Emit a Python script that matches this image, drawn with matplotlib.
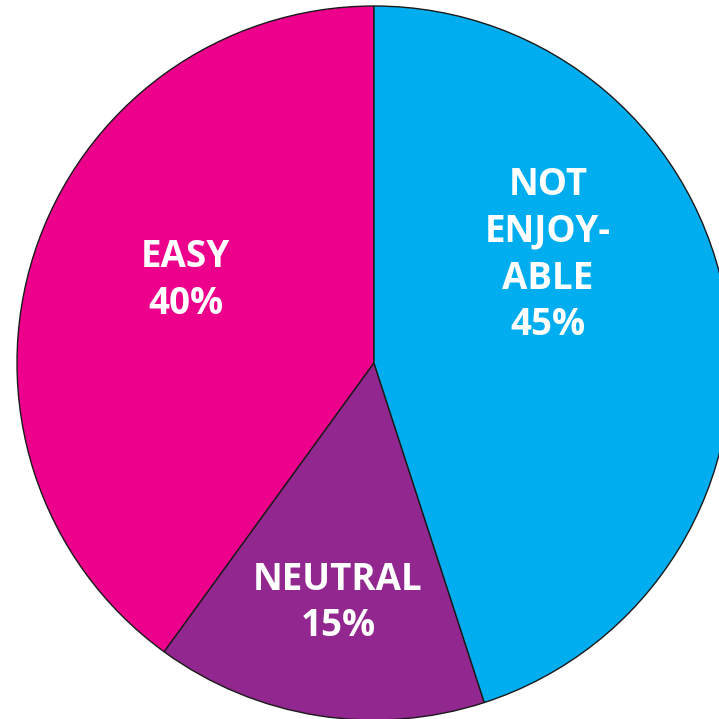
import matplotlib
matplotlib.use("Agg")
import matplotlib.pyplot as plt

labels = ["EASY", "NEUTRAL", "NOT\nENJOY-\nABLE"]
values = [40, 15, 45]
colors = ["#EC008C", "#92278F", "#00AEEF"]

# label positions (data units, pie radius = 1)
label_pos = [(-0.527, 0.232), (-0.101, -0.672), (0.487, 0.302)]

fig = plt.figure(figsize=(7.19, 7.19), dpi=100)
ax = fig.add_axes([0, 0, 1, 1])

ax.pie(values, colors=colors, startangle=90, counterclock=True,
       wedgeprops=dict(edgecolor="#1a1a1a", linewidth=1.0))

for lab, val, (x, y) in zip(labels, values, label_pos):
    ax.text(x, y, f"{lab}\n{val}%", ha="center", va="center",
            color="white", fontsize=26.5, fontweight="bold",
            family="Open Sans", linespacing=1.3)

# the circle runs slightly off the frame like the original
cx, cy, r = 374, 363, 357
ax.set_xlim(-cx / r, (719 - cx) / r)
ax.set_ylim(-(719 - cy) / r, cy / r)
ax.set_aspect("auto")
ax.axis("off")

fig.savefig("out.png", dpi=100)
